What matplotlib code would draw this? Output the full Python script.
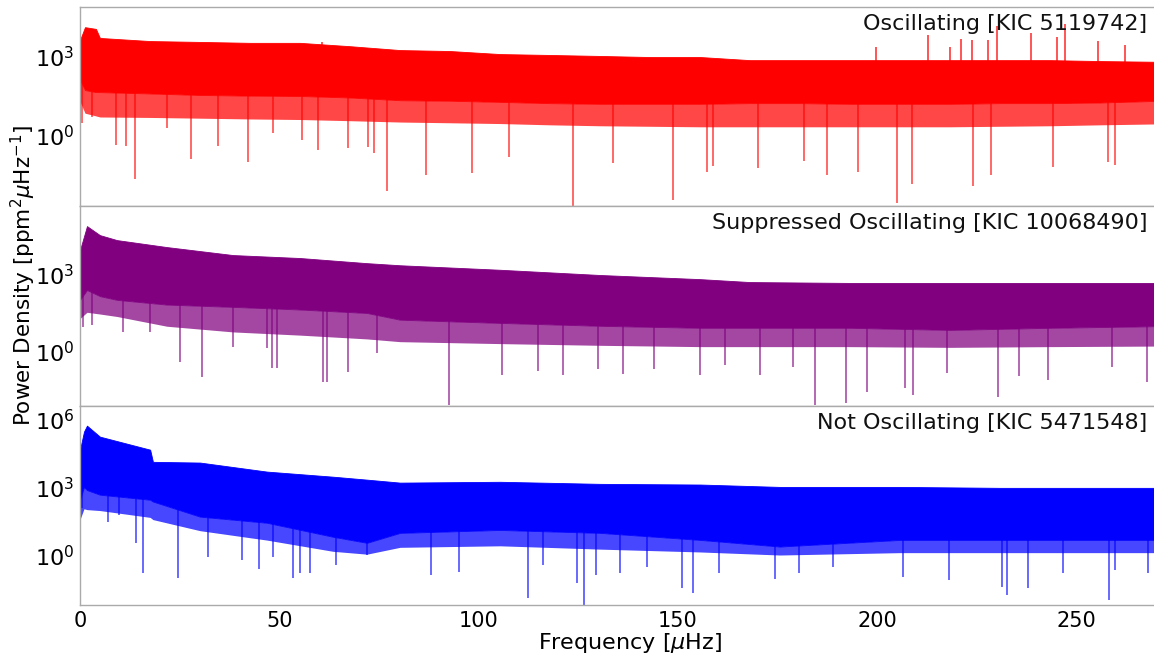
import numpy as np
import matplotlib
matplotlib.use("Agg")
import matplotlib.pyplot as plt

# ---------------- data ----------------
# x axis [muHz]
x_ticks = [0, 50, 100, 150, 200, 250]

titles = ["Oscillating [KIC 5119742]",
          "Suppressed Oscillating [KIC 10068490]",
          "Not Oscillating [KIC 5471548]"]
colors = ["#ff0000", "#800080", "#0000ff"]

# --- Oscillating (red): dense band envelopes [ppm^2/muHz]
red_env_f = [0, 1.25, 4.0, 5.0, 17.6, 30.1, 42.7, 55.2, 67.8, 80.3, 92.8, 105.4,
             117.9, 130.5, 143.0, 155.6, 168.1, 180.7, 193.2, 205.8, 218.3,
             230.9, 243.4, 256.0, 276.0]
red_upper = [4.5e3, 1.4e4, 1.2e4, 5.4e3, 4.1e3, 3.8e3, 3.5e3, 3.5e3, 2.6e3, 1.85e3,
             1.7e3, 1.3e3, 1.2e3, 1.1e3, 1.0e3, 1.0e3, 7.6e2, 7.6e2, 7.6e2, 7.6e2,
             7.6e2, 7.6e2, 7.6e2, 7.0e2, 6.4e2]
red_lower = [1.3e2, 54, 45, 45, 40, 35, 33, 32, 28, 22, 21, 19, 17, 16, 16, 16,
             17, 17, 16, 16, 16, 17, 17, 18, 22]
# lower edge of the zone of dense (but not solid) downward spikes
red_fringe = [20, 7, 5.5, 5.0, 4.8, 4.5, 4.2, 4.0, 3.6, 3.2, 3.0, 2.8, 2.5, 2.3,
              2.2, 2.1, 2.1, 2.1, 2.1, 2.1, 2.1, 2.2, 2.3, 2.5, 2.8]
# downward spikes (frequency, power)
red_dip_f = [0.5, 3.0, 9.0, 11.5, 13.8, 21.8, 27.9, 34.6, 42.2, 48.4, 55.7, 59.7,
             67.3, 72.3, 73.8, 77.0, 86.8, 98.4, 107.7, 123.7, 133.8, 148.8,
             157.3, 158.8, 170.1, 181.7, 187.5, 195.2, 205.0, 208.8, 224.1,
             228.6, 244.2, 258.0, 259.7]
red_dip_p = [2.9, 4.9, 0.41, 0.38, 0.020, 1.9, 0.12, 0.38, 0.091, 1.2, 0.65, 0.26,
             0.32, 0.35, 0.20, 0.0071, 0.029, 0.035, 0.14, 0.0019, 0.083, 0.0032,
             0.038, 0.065, 0.054, 0.10, 0.029, 0.038, 0.0024, 0.013, 0.011,
             0.029, 0.059, 0.091, 0.071]
# upward spikes (oscillation modes)
red_peak_f = [60.7, 199.7, 212.8, 218.3, 221.1, 223.8, 227.9, 230.1, 238.6,
              245.2, 247.2, 255.5, 262.2]
red_peak_p = [3.8e3, 2.4e3, 7.0e3, 2.4e3, 4.9e3, 4.5e3, 4.5e3, 1.55e4, 8.4e3,
              5.9e3, 1.85e4, 4.1e3, 2.9e3]

# --- Suppressed oscillating (purple)
pur_env_f = [0, 1.75, 5.0, 9.3, 21.8, 38.4, 55.2, 72.0, 80.3, 105.4, 130.5,
             155.6, 168.1, 193.2, 218.3, 243.4, 276.0]
pur_upper = [9.4e3, 8.1e4, 3.6e4, 2.3e4, 1.23e4, 6.0e3, 4.6e3, 2.9e3, 2.4e3,
             1.6e3, 1.0e3, 6.9e2, 5.3e2, 4.9e2, 4.9e2, 4.9e2, 4.9e2]
pur_lower = [1.07e2, 2.6e2, 1.5e2, 1.07e2, 70, 57, 45, 33, 18, 13.5, 10.4,
             8.7, 8.7, 8.7, 7.2, 8.7, 10.4]
pur_fringe = [20, 35, 30, 24, 10, 6.0, 4.5, 3.2, 2.5, 2.1, 1.8, 1.6, 1.6, 1.6,
              1.5, 1.6, 1.7]
pur_dip_f = [0.75, 3.0, 10.8, 17.6, 25.1, 30.6, 38.4, 46.9, 48.2, 49.4, 61.0,
             62.0, 67.3, 74.5, 92.6, 106.0, 115.0, 121.3, 130.0, 136.3, 144.0,
             155.5, 161.8, 170.6, 178.9, 184.4, 192.2, 197.5, 207.0, 209.0,
             217.6, 230.4, 235.6, 242.9, 259.0, 267.8]
pur_dip_p = [9.6, 11, 6.0, 6.0, 0.41, 0.10, 1.6, 1.4, 0.24, 0.24, 0.069, 0.069,
             0.17, 0.91, 0.0087, 0.12, 0.18, 0.12, 0.22, 0.14, 0.22, 0.12, 0.30,
             0.13, 0.26, 0.0087, 0.010, 0.028, 0.040, 0.021, 0.15, 0.018, 0.11,
             0.081, 0.26, 0.069]

# --- Not oscillating (blue)
blu_env_f = [0, 1.0, 1.75, 5.0, 17.6, 18.3, 30.1, 46.9, 63.5, 72.0, 80.3, 105.4,
             130.5, 155.6, 175.6, 205.8, 230.9, 276.0]
blu_upper = [4.8e4, 3.0e5, 5.5e5, 1.8e5, 4.8e4, 1.4e4, 1.3e4, 5.2e3, 3.1e3,
             2.3e3, 1.7e3, 1.85e3, 1.5e3, 1.4e3, 1.1e3, 1.1e3, 1.0e3, 1.0e3]
blu_lower = [3.0e2, 1.1e3, 8.0e2, 5.0e2, 3.0e2, 2.5e2, 54, 29, 7.0, 3.8, 10.4,
             14, 10.4, 5.1, 2.6, 5.1, 5.1, 5.1]
blu_fringe = [40, 120, 110, 100, 50, 40, 13, 5.0, 1.6, 1.2, 2.4, 2.8, 2.0, 1.5,
              1.1, 1.4, 1.4, 1.4]
blu_dip_f = [0.5, 7.0, 9.8, 14.1, 15.8, 24.6, 32.1, 40.7, 44.9, 48.4, 53.5, 55.2,
             57.7, 64.2, 72.0, 88.1, 95.1, 112.4, 116.2, 124.7, 126.5, 129.5,
             135.5, 142.3, 151.1, 153.8, 160.4, 174.4, 180.4, 189.0, 206.5,
             218.1, 231.4, 232.6, 237.9, 246.7, 258.2, 259.7, 268.0]
blu_dip_p = [1.3e2, 32, 65, 3.8, 0.18, 0.11, 0.91, 0.68, 0.27, 0.91, 0.11, 0.18,
             0.18, 0.41, 1.1, 0.15, 0.20, 0.014, 0.41, 0.066, 0.0071, 0.15, 0.18,
             0.33, 0.040, 0.024, 0.18, 0.10, 0.18, 0.33, 0.12, 0.089, 0.044,
             0.019, 0.040, 0.18, 0.012, 0.25, 0.18]

panels = [
    dict(env_f=red_env_f, upper=red_upper, lower=red_lower, fringe=red_fringe,
         dip_f=red_dip_f, dip_p=red_dip_p, peak_f=red_peak_f, peak_p=red_peak_p,
         ylim=(10**-2.73, 10**4.92), yticks=[1e0, 1e3]),
    dict(env_f=pur_env_f, upper=pur_upper, lower=pur_lower, fringe=pur_fringe,
         dip_f=pur_dip_f, dip_p=pur_dip_p, peak_f=[], peak_p=[],
         ylim=(10**-2.1, 10**5.68), yticks=[1e0, 1e3]),
    dict(env_f=blu_env_f, upper=blu_upper, lower=blu_lower, fringe=blu_fringe,
         dip_f=blu_dip_f, dip_p=blu_dip_p, peak_f=[], peak_p=[],
         ylim=(10**-2.16, 10**6.62), yticks=[1e0, 1e3, 1e6]),
]

# ---------------- figure ----------------
plt.rcParams['font.family'] = ['DejaVu Sans']
plt.rcParams['mathtext.fontset'] = 'dejavusans'
fig = plt.figure(figsize=(11.54, 6.56), dpi=100)
# the axes runs past the right edge of the picture (cropped, as in the reference)
gs = fig.add_gridspec(3, 1, left=80/1154, right=1180/1154, top=1-7/656,
                      bottom=1-605/656, hspace=0)
axes = [fig.add_subplot(gs[i]) for i in range(3)]

for ax, p, col, title in zip(axes, panels, colors, titles):
    ef = np.asarray(p['env_f'])
    up = np.asarray(p['upper'], float)
    lo = np.asarray(p['lower'], float)
    fr = np.asarray(p['fringe'], float)
    ax.set_yscale('log')
    ax.fill_between(ef, fr, lo, color=col, linewidth=0, alpha=0.72)
    ax.fill_between(ef, lo, up, color=col, linewidth=0.6, edgecolor=col)
    df = np.asarray(p['dip_f'])
    if len(df):
        top = np.exp(np.interp(df, ef, np.log(lo))) * 3
        ax.vlines(df, p['dip_p'], top, color=col, linewidth=1.1, alpha=0.75)
    pf = np.asarray(p['peak_f'])
    if len(pf):
        base = np.exp(np.interp(pf, ef, np.log(up))) / 2
        ax.vlines(pf, base, p['peak_p'], color=col, linewidth=1.1, alpha=0.85)
    ax.set_xlim(0, 276)
    ax.set_ylim(*p['ylim'])
    ax.set_yticks(p['yticks'])
    ax.yaxis.set_major_formatter(matplotlib.ticker.LogFormatterMathtext())
    ax.yaxis.set_minor_locator(matplotlib.ticker.LogLocator(base=10, subs=np.arange(2, 10)))
    ax.yaxis.set_minor_formatter(matplotlib.ticker.NullFormatter())
    ax.set_xticks(x_ticks)
    ax.tick_params(axis='x', which='major', length=0, labelsize=15, pad=4)
    ax.tick_params(axis='y', which='major', length=0, labelsize=16, pad=4)
    ax.tick_params(axis='y', which='minor', length=1.5, color='#bbbbbb')
    for s in ax.spines.values():
        s.set_color('#aaaaaa')
        s.set_linewidth(1.0)
    ax.text(0.970, 0.965, title, transform=ax.transAxes, ha='right', va='top',
            fontsize=16, color='#111111')
    if ax is not axes[-1]:
        ax.tick_params(axis='x', labelbottom=False)

axes[-1].set_xlabel(r'Frequency [$\mu$Hz]', fontsize=16, labelpad=0)
fig.text(0.008, (1 - 276/656), r'Power Density [ppm$^2\mu$Hz$^{-1}$]',
         rotation=90, ha='left', va='center', fontsize=15.5)

fig.savefig('out.png', dpi=100)
